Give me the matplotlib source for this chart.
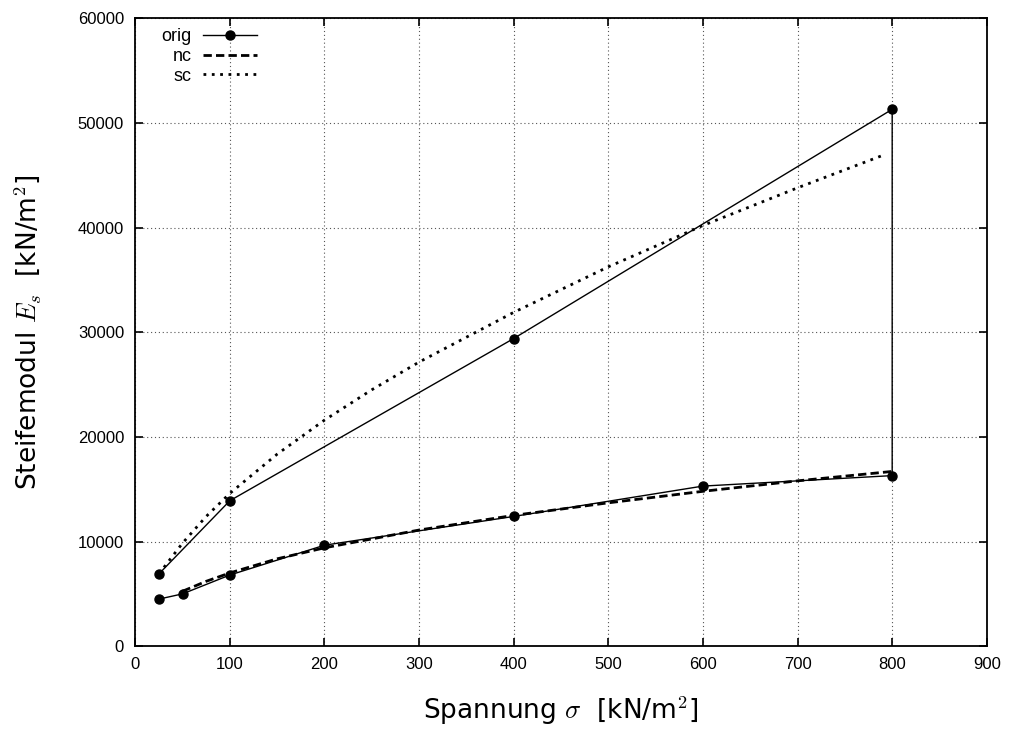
import matplotlib
matplotlib.use('Agg')
import matplotlib.pyplot as plt

# measured curve: loading branch, then unloading back from 800
orig_x = [25, 50, 100, 200, 400, 600, 800, 800, 400, 100, 25]
orig_y = [4500, 5000, 6800, 9650, 12400, 15300, 16300, 51300, 29400, 13900, 6900]

# nc fit
nc_x = [50, 75, 100, 150, 200, 300, 400, 500, 600, 700, 800]
nc_y = [5250, 6200, 7000, 8350, 9400, 11100, 12500, 13700, 14800, 15800, 16700]

# sc fit
sc_x = [25, 50, 75, 100, 150, 200, 250, 300, 400, 500, 600, 700, 790]
sc_y = [6900, 9850, 12400, 14600, 18350, 21600, 24500, 27150, 31900, 36250, 40200, 43800, 46900]

plt.rcParams['mathtext.fontset'] = 'cm'
plt.rcParams['font.family'] = ['Liberation Sans', 'DejaVu Sans']

fig = plt.figure(figsize=(10.09, 7.31), dpi=100)
ax = fig.add_axes([0.134, 0.116, 0.844, 0.859])

ax.plot(orig_x, orig_y, color='black', lw=1.0, marker='o', ms=6.5, label='orig')
ax.plot(nc_x, nc_y, color='black', lw=2.0, linestyle=(0, (3, 1.5)), label='nc')
ax.plot(sc_x, sc_y, color='black', lw=2.0, linestyle=(0, (1, 2)), label='sc')

ax.set_xlim(0, 900)
ax.set_ylim(0, 60000)
ax.set_xticks(range(0, 901, 100))
ax.set_yticks(range(0, 60001, 10000))
ax.grid(True, color='#555555', linestyle=(0, (1, 2.5)), lw=0.8)
ax.tick_params(direction='in', top=True, right=True, length=6, width=1.2,
               labelsize=12, pad=8)
for s in ax.spines.values():
    s.set_linewidth(1.3)

label_font = ['DejaVu Sans']
ax.set_xlabel(r'Spannung $\sigma$  [kN/m$^2$]', fontsize=19, labelpad=16,
              family=label_font)
ax.set_ylabel(r'Steifemodul $E_s$  [kN/m$^2$]', fontsize=19, labelpad=25,
              family=label_font)

leg = ax.legend(loc='upper left', bbox_to_anchor=(0.016, 1.004), frameon=False,
                markerfirst=False, fontsize=13, handlelength=3.0,
                labelspacing=0.15, borderaxespad=0.3, handletextpad=0.6)
for t in leg.get_texts():
    t.set_ha('right')
    t.set_position((0, 0))

fig.savefig('out.png', dpi=100)
